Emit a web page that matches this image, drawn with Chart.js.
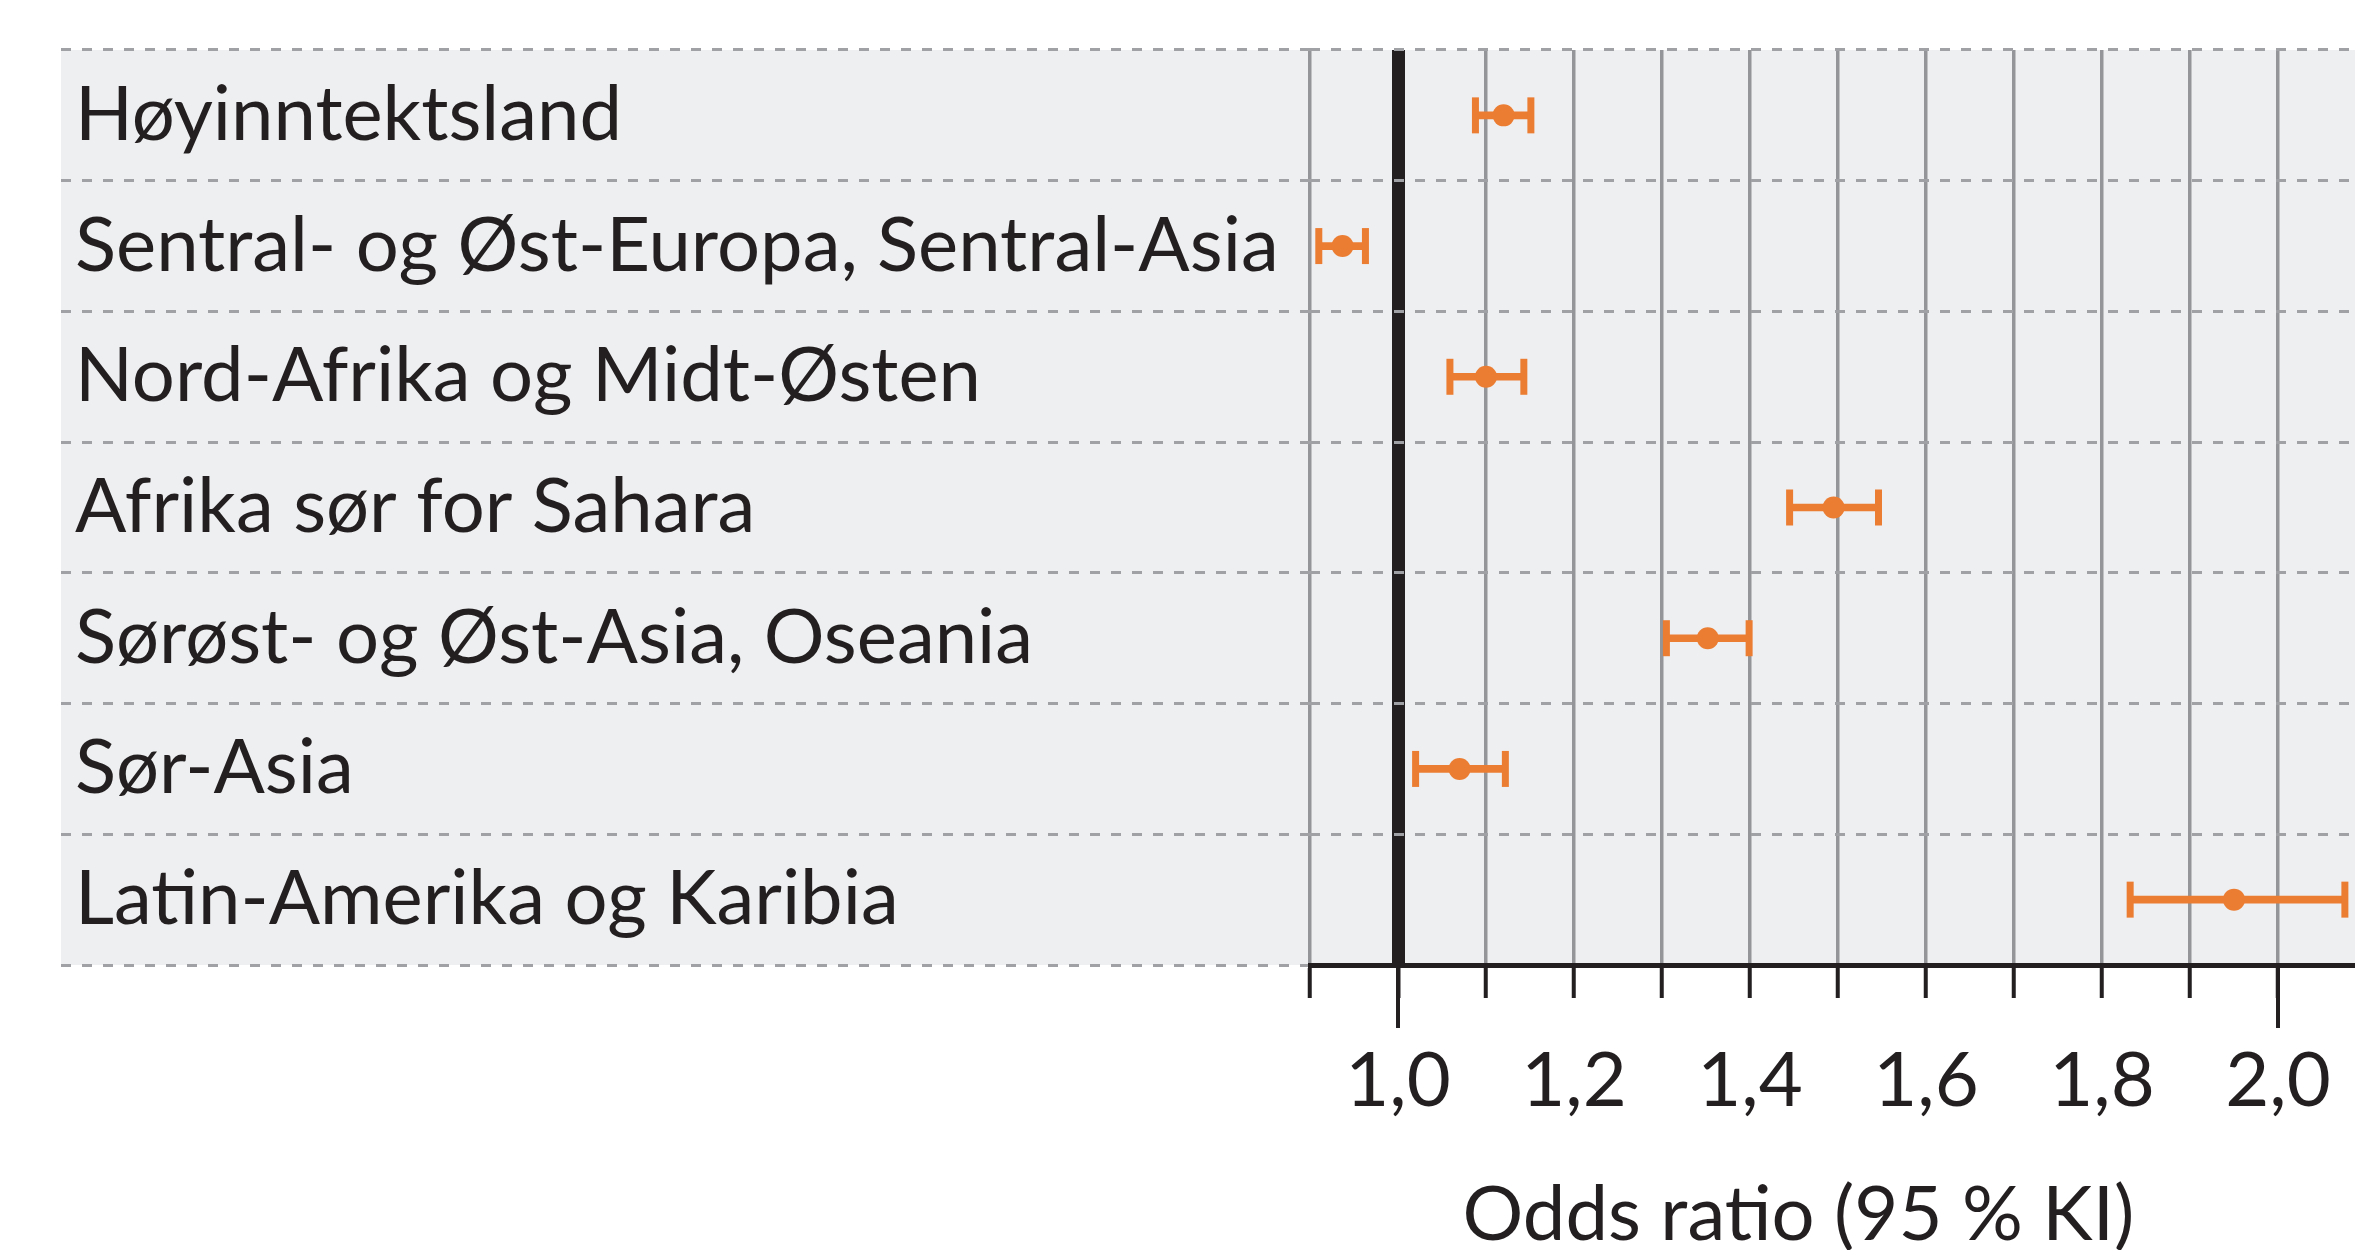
<!DOCTYPE html>
<html>
<head>
<meta charset="utf-8">
<script src="https://cdn.jsdelivr.net/npm/chart.js@4/dist/chart.umd.min.js"></script>
<style>
  html, body { margin: 0; padding: 0; background: #fff; }
  canvas { display: block; }
</style>
</head>
<body>
<canvas id="forest" width="2355" height="1250"></canvas>
<script>
// data
const categories = [
  'Høyinntektsland',
  'Sentral- og Øst-Europa, Sentral-Asia',
  'Nord-Afrika og Midt-Østen',
  'Afrika sør for Sahara',
  'Sørøst- og Øst-Asia, Oseania',
  'Sør-Asia',
  'Latin-Amerika og Karibia'
];
const oddsRatio = [1.12, 0.937, 1.10, 1.495, 1.352, 1.07, 1.95];
const ciLower   = [1.088, 0.91, 1.059, 1.445, 1.305, 1.02, 1.832];
const ciUpper   = [1.151, 0.963, 1.143, 1.546, 1.399, 1.122, 2.076];

const tickValues = [1.0, 1.2, 1.4, 1.6, 1.8, 2.0];
const tickLabels = ['1,0', '1,2', '1,4', '1,6', '1,8', '2,0'];
const majorTicks = [1.0, 2.0];
const axisTitle = 'Odds ratio (95 % KI)';
const titleCenter = 1.455;

const ORANGE = '#EB7D32';
const BLACK = '#231F20';
const GRID = '#939598';
const DASH = '#A0A1A4';
const PANEL = '#EEEFF1';
const FONT = 'Lato';

Chart.defaults.font.family = FONT;
Chart.defaults.color = BLACK;

// grey panel behind labels + plot
const panelPlugin = {
  id: 'panel',
  beforeDraw(chart) {
    const { ctx, chartArea } = chart;
    ctx.save();
    ctx.fillStyle = PANEL;
    ctx.fillRect(61, chartArea.top, chart.width - 61, chartArea.bottom - chartArea.top);
    ctx.restore();
  }
};

// longer ticks at 1,0 and 2,0 plus axis title
const axisExtras = {
  id: 'axisExtras',
  afterDraw(chart) {
    const { ctx, chartArea } = chart;
    const x = chart.scales.x;
    ctx.save();
    ctx.strokeStyle = BLACK;
    ctx.lineWidth = 4;
    majorTicks.forEach(v => {
      const px = Math.round(x.getPixelForValue(v));
      ctx.beginPath();
      ctx.moveTo(px, chartArea.bottom);
      ctx.lineTo(px, chartArea.bottom + 63);
      ctx.stroke();
    });
    ctx.fillStyle = BLACK;
    ctx.font = '76px ' + FONT;
    ctx.textAlign = 'center';
    ctx.textBaseline = 'alphabetic';
    ctx.fillText(axisTitle, x.getPixelForValue(titleCenter), chart.height - 10);
    ctx.restore();
  }
};

new Chart(document.getElementById('forest'), {
  type: 'bar',
  data: {
    labels: categories,
    datasets: [
      {
        label: 'KI',
        data: categories.map((c, i) => [ciLower[i], ciUpper[i]]),
        backgroundColor: ORANGE,
        borderWidth: 0,
        barThickness: 7,
        order: 3
      },
      {
        type: 'scatter',
        label: 'caps',
        data: categories.flatMap((c, i) => [{ x: ciLower[i], y: c }, { x: ciUpper[i], y: c }]),
        pointStyle: 'line',
        rotation: 90,
        radius: 18,
        borderWidth: 7,
        borderColor: ORANGE,
        order: 2
      },
      {
        type: 'scatter',
        label: 'OR',
        data: categories.map((c, i) => ({ x: oddsRatio[i], y: c })),
        pointStyle: 'circle',
        radius: 11,
        backgroundColor: ORANGE,
        borderWidth: 0,
        order: 1
      }
    ]
  },
  options: {
    indexAxis: 'y',
    responsive: false,
    animation: false,
    layout: { autoPadding: false, padding: { left: 75, top: 50, right: 0, bottom: 0 } },
    plugins: { legend: { display: false }, tooltip: { enabled: false } },
    scales: {
      x: {
        type: 'linear',
        min: 0.9,
        max: 2.0875,
        afterFit: s => { s.height = 285; s.paddingLeft = 0; s.paddingRight = 0; },
        border: { display: true, color: BLACK, width: 5 },
        grid: {
          color: c => (c.tick && Math.abs(c.tick.value - 1) < 1e-6) ? BLACK : GRID,
          lineWidth: c => (c.tick && Math.abs(c.tick.value - 1) < 1e-6) ? 13 : 3.5,
          drawTicks: true,
          tickLength: 33,
          tickColor: BLACK,
          tickWidth: 4
        },
        ticks: {
          stepSize: 0.1,
          includeBounds: false,
          autoSkip: false,
          maxRotation: 0,
          padding: 38,
          color: BLACK,
          font: { size: 76, lineHeight: 1.2 },
          callback: v => {
            const i = tickValues.findIndex(t => Math.abs(t - v) < 1e-6);
            return i >= 0 ? tickLabels[i] : '';
          }
        }
      },
      y: {
        type: 'category',
        offset: true,
        afterFit: s => { s.width = 1235; },
        border: { display: false, dash: [10, 11] },
        grid: {
          offset: true,
          color: DASH,
          lineWidth: 3,
          drawTicks: true,
          tickLength: 1249,
          tickColor: DASH,
          tickWidth: 3,
          tickBorderDash: [10, 11]
        },
        ticks: {
          crossAlign: 'far',
          color: BLACK,
          font: { size: 76, lineHeight: 1.2 }
        }
      }
    }
  },
  plugins: [panelPlugin, axisExtras]
});
</script>
</body>
</html>
